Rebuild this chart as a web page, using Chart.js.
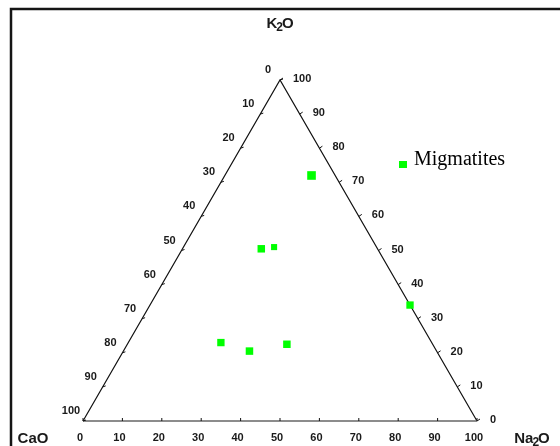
<!DOCTYPE html>
<html>
<head>
<meta charset="utf-8">
<script src="https://cdn.jsdelivr.net/npm/chart.js@4"></script>
<style>
  html, body { margin: 0; padding: 0; background: #fff; }
  #wrap { width: 560px; height: 446px; }
</style>
</head>
<body>
<div id="wrap"><canvas id="c" width="560" height="446"></canvas></div>
<script>
// Sample compositions (wt. % normalised to 100) for the migmatites
const sampleNames = ['M1', 'M2', 'M3', 'M4', 'M5', 'M6', 'M7'];
const cao  = [6, 29.5, 26, 0, 53.5, 47.5, 37];
const na2o = [22, 20, 23, 66, 23.5, 32, 40.5];
const k2o  = [72, 50.5, 51, 34, 23, 20.5, 22.5];

// Axis graduations
const tickValues = [0, 10, 20, 30, 40, 50, 60, 70, 80, 90, 100];
const seriesName = 'Migmatites';

const H = Math.sqrt(3) / 2;
// ternary -> cartesian (CaO bottom-left, Na2O bottom-right, K2O apex)
function toXY(ca, na, k) {
  const s = ca + na + k;
  return { x: (na + k / 2) / s * 100, y: (k / s) * 100 * H };
}

const points = sampleNames.map((n, i) => toXY(cao[i], na2o[i], k2o[i]));

const TICK_FONT = 'bold 11px "Liberation Sans", Arial, sans-serif';
const TITLE_FONT = 'bold 15px "Liberation Sans", Arial, sans-serif';
const SUB_FONT = 'bold 12px "Liberation Sans", Arial, sans-serif';

const ternaryPlugin = {
  id: 'ternary',
  beforeDatasetsDraw(chart) {
    const ctx = chart.ctx;
    const xs = chart.scales.x, ys = chart.scales.y;
    const P = (p) => [xs.getPixelForValue(p.x), ys.getPixelForValue(p.y)];
    const A = P(toXY(100, 0, 0));   // CaO corner
    const B = P(toXY(0, 100, 0));   // Na2O corner
    const C = P(toXY(0, 0, 100));   // K2O apex
    ctx.save();

    // outer frame
    ctx.strokeStyle = '#151515';
    ctx.lineWidth = 2.5;
    ctx.beginPath();
    ctx.moveTo(11, 446);
    ctx.lineTo(11, 9);
    ctx.lineTo(560, 9);
    ctx.stroke();

    // triangle sides
    ctx.lineWidth = 1.2;
    ctx.strokeStyle = '#111';
    ctx.beginPath();
    ctx.moveTo(A[0], A[1]);
    ctx.lineTo(C[0], C[1]);
    ctx.lineTo(B[0], B[1]);
    ctx.stroke();
    ctx.strokeStyle = '#666';
    ctx.lineWidth = 1.5;
    ctx.beginPath();
    ctx.moveTo(A[0], A[1]);
    ctx.lineTo(B[0], B[1]);
    ctx.stroke();

    ctx.fillStyle = '#1a1a1a';
    ctx.font = TICK_FONT;
    ctx.textBaseline = 'middle';
    ctx.textAlign = 'center';
    ctx.strokeStyle = '#111';
    ctx.lineWidth = 1;

    tickValues.forEach((v) => {
      // left side: CaO from apex (0) to bottom-left (100)
      let p = P(toXY(v, 0, 100 - v));
      ctx.beginPath();
      ctx.moveTo(p[0], p[1]);
      ctx.lineTo(p[0] + 3, p[1] - 1);
      ctx.stroke();
      ctx.fillText(String(v), p[0] - 12, p[1] - 10);

      // right side: K2O from bottom-right (0) to apex (100)
      p = P(toXY(0, 100 - v, v));
      ctx.beginPath();
      ctx.moveTo(p[0], p[1]);
      ctx.lineTo(p[0] + 3, p[1] - 2);
      ctx.stroke();
      ctx.textAlign = 'left';
      ctx.fillText(String(v), p[0] + 13, p[1] - 1);
      ctx.textAlign = 'center';

      // base: Na2O from bottom-left (0) to bottom-right (100)
      p = P(toXY(100 - v, v, 0));
      ctx.beginPath();
      ctx.moveTo(p[0], p[1]);
      ctx.lineTo(p[0], p[1] - 3);
      ctx.stroke();
      ctx.fillText(String(v), p[0] - 3, p[1] + 17);
    });

    // corner titles
    const drawOxide = (x, y, a, sub, b) => {
      ctx.textAlign = 'left';
      ctx.font = TITLE_FONT;
      const wa = ctx.measureText(a).width;
      const wb = ctx.measureText(b).width;
      ctx.font = SUB_FONT;
      const ws = ctx.measureText(sub).width;
      const total = wa + ws + wb - 2;
      let cx = x - total / 2;
      ctx.font = TITLE_FONT;
      ctx.fillText(a, cx, y);
      cx += wa - 1;
      ctx.font = SUB_FONT;
      ctx.fillText(sub, cx, y + 4);
      cx += ws - 1;
      ctx.font = TITLE_FONT;
      ctx.fillText(b, cx, y);
    };
    drawOxide(280, 24, 'K', '2', 'O');
    drawOxide(532, 439, 'Na', '2', 'O');
    ctx.font = TITLE_FONT;
    ctx.textAlign = 'center';
    ctx.fillText('CaO', 33, 439);

    // legend
    ctx.fillStyle = '#00ff00';
    ctx.fillRect(399, 161, 8, 7);
    ctx.fillStyle = '#000';
    ctx.font = '20px "Liberation Serif", "Times New Roman", serif';
    ctx.textAlign = 'left';
    ctx.textBaseline = 'alphabetic';
    ctx.fillText(seriesName, 414, 165);

    ctx.restore();
  }
};

new Chart(document.getElementById('c'), {
  type: 'scatter',
  data: {
    datasets: [{
      label: seriesName,
      data: points,
      pointStyle: 'rect',
      backgroundColor: '#00ff00',
      borderWidth: 0,
      pointRadius: [6.1, 5.3, 4.3, 5.2, 5.2, 5.3, 5.3],
      pointHoverRadius: 6
    }]
  },
  options: {
    responsive: false,
    animation: false,
    devicePixelRatio: 1,
    layout: { padding: { left: 83, right: 83, top: 80, bottom: 25 } },
    scales: {
      x: { type: 'linear', min: 0, max: 100, display: false },
      y: { type: 'linear', min: 0, max: 100 * H, display: false }
    },
    plugins: {
      legend: { display: false },
      tooltip: { enabled: false }
    }
  },
  plugins: [ternaryPlugin]
});
</script>
</body>
</html>
